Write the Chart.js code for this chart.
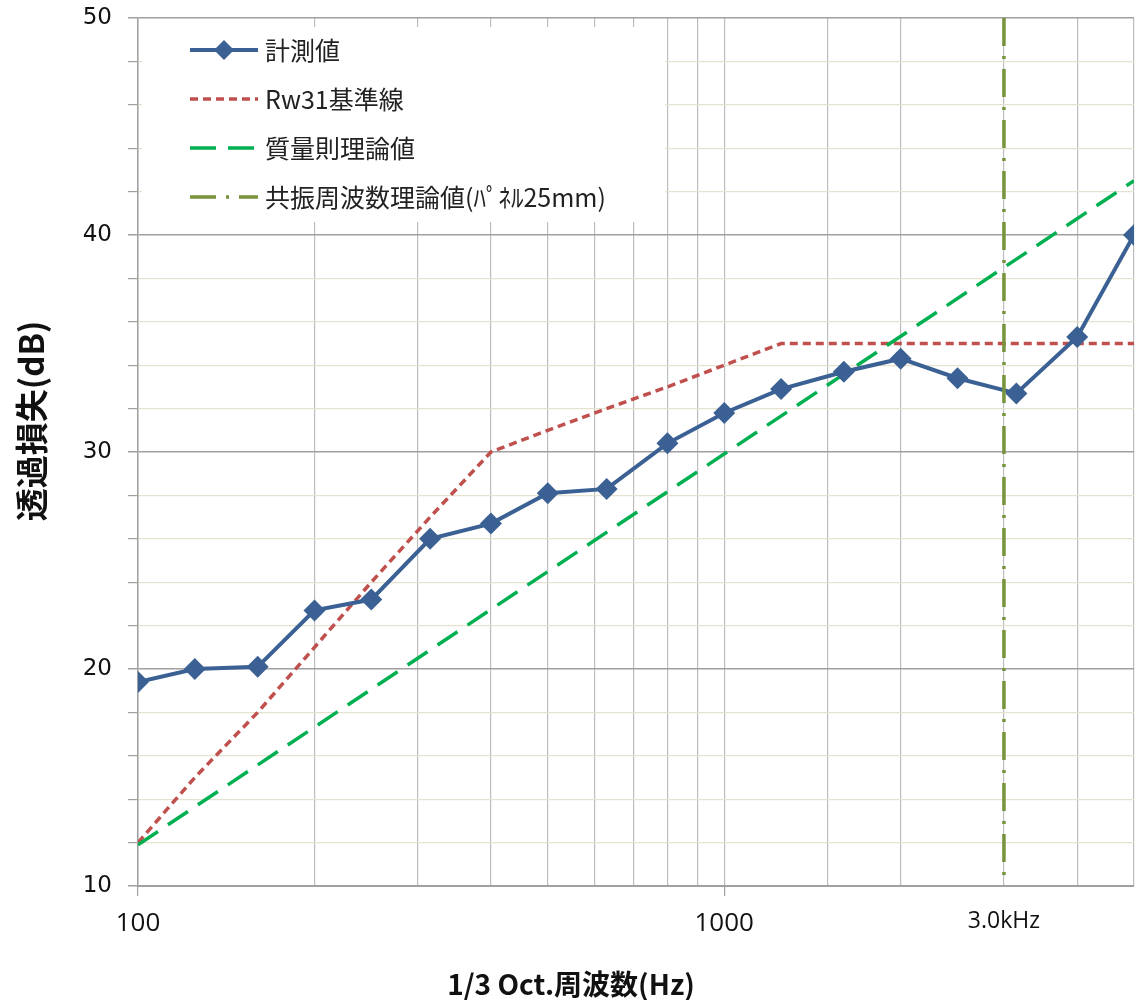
<!DOCTYPE html>
<html>
<head>
<meta charset="utf-8">
<script src="https://cdn.jsdelivr.net/npm/chart.js@4.4.1/dist/chart.umd.min.js"></script>
<style>
    body { margin: 0; background: #fff; }
    #wrap { width: 1145px; height: 1000px; }
</style>
</head>
<body>
<div id="wrap"><canvas id="tlChart" width="1145" height="1000"></canvas></div>
<script>
// ==================== DATA ====================
const freqs = [100, 125, 160, 200, 250, 315, 400, 500, 630, 800, 1000, 1250, 1600, 2000, 2500, 3150, 4000, 5000];
const measured = [19.4, 20.0, 20.1, 22.7, 23.2, 26.0, 26.7, 28.1, 28.3, 30.4, 31.8, 32.9, 33.7, 34.3, 33.4, 32.7, 35.3, 40.0];
const rw31Ref = [12, 15, 18, 21, 24, 27, 30, 31, 32, 33, 34, 35, 35, 35, 35, 35, 35, 35];
const massLawFreqs = [100, 5000];
const massLawValues = [11.9, 42.5];
const resonanceFreqs = [3000, 3000];
const resonanceValues = [50, 10.5];
const xLabels = { 100: '100', 1000: '1000', 3000: '3.0kHz' };

const seriesNames = ['計測値', 'Rw31基準線', '質量則理論値', '共振周波数理論値(ﾊﾟﾈﾙ25mm)'];
const xTitle = '1/3 Oct.周波数(Hz)';
const yTitle = '透過損失(dB)';

const toPoints = (xs, ys) => xs.map((x, i) => ({ x: x, y: ys[i] }));

const JP_FONT = '"Noto Sans CJK JP", "Noto Sans", sans-serif';

// legend box drawn inside the plot, like the spreadsheet original
const insideLegend = {
    id: 'insideLegend',
    beforeDatasetsDraw(chart) {
        const ctx = chart.ctx;
        const area = chart.chartArea;
        const boxLeft = area.left + 4, boxTop = 27, boxRight = 665, boxBottom = 222;
        ctx.save();
        ctx.fillStyle = '#ffffff';
        ctx.fillRect(boxLeft, boxTop, boxRight - boxLeft, boxBottom - boxTop);

        chart.data.datasets.forEach((ds, i) => {
            const y = 50 + i * 49;
            const x0 = 190, x1 = 258;
            ctx.strokeStyle = ds.borderColor;
            ctx.lineWidth = ds.borderWidth;
            ctx.setLineDash(ds.legendDash || ds.borderDash || []);
            ctx.beginPath();
            ctx.moveTo(x0, y);
            ctx.lineTo(x1, y);
            ctx.stroke();
            ctx.setLineDash([]);
            if (ds.pointRadius > 0) {
                const r = 10;
                const cx = (x0 + x1) / 2;
                ctx.fillStyle = ds.backgroundColor;
                ctx.beginPath();
                ctx.moveTo(cx, y - r);
                ctx.lineTo(cx + r, y);
                ctx.lineTo(cx, y + r);
                ctx.lineTo(cx - r, y);
                ctx.closePath();
                ctx.fill();
            }
            ctx.fillStyle = '#222';
            ctx.font = '25px ' + JP_FONT;
            ctx.textBaseline = 'middle';
            ctx.textAlign = 'left';
            ctx.fillText(ds.label, 265, y);
        });
        ctx.restore();
    }
};

// axis titles sit off-centre in the original, so draw them by hand
const axisTitles = {
    id: 'axisTitles',
    afterDraw(chart) {
        const ctx = chart.ctx;
        ctx.save();
        ctx.fillStyle = '#111';
        ctx.textAlign = 'center';
        ctx.textBaseline = 'middle';
        ctx.font = 'bold 28px ' + JP_FONT;
        ctx.fillText(xTitle, 571, 984);
        ctx.translate(31, 421);
        ctx.rotate(-Math.PI / 2);
        ctx.font = 'bold 33px ' + JP_FONT;
        ctx.fillText(yTitle, 0, 0);
        ctx.restore();
    }
};

new Chart(document.getElementById('tlChart').getContext('2d'), {
    type: 'line',
    data: {
        datasets: [
            {
                label: seriesNames[0],
                data: toPoints(freqs, measured),
                borderColor: '#3B6194',
                backgroundColor: '#3B6194',
                borderWidth: 4,
                pointStyle: 'rectRot',
                pointRadius: 11,
                pointBorderWidth: 0,
                tension: 0,
                order: 1
            },
            {
                label: seriesNames[1],
                data: toPoints(freqs, rw31Ref),
                borderColor: '#C0504D',
                backgroundColor: '#C0504D',
                borderWidth: 3.5,
                borderDash: [8, 5],
                pointRadius: 0,
                tension: 0,
                order: 3
            },
            {
                label: seriesNames[2],
                data: toPoints(massLawFreqs, massLawValues),
                borderColor: '#00B050',
                backgroundColor: '#00B050',
                borderWidth: 3.5,
                borderDash: [24, 12],
                legendDash: [26, 12],
                pointRadius: 0,
                tension: 0,
                order: 2
            },
            {
                label: seriesNames[3],
                data: toPoints(resonanceFreqs, resonanceValues),
                borderColor: '#77933C',
                backgroundColor: '#77933C',
                borderWidth: 3.5,
                borderDash: [28, 10, 3, 10],
                legendDash: [26, 10, 3, 10],
                pointRadius: 0,
                tension: 0,
                order: 0
            }
        ]
    },
    plugins: [insideLegend, axisTitles],
    options: {
        responsive: false,
        animation: false,
        layout: { padding: { top: 18, right: 10, left: 0, bottom: 0 } },
        plugins: {
            legend: { display: false },
            tooltip: { enabled: false }
        },
        scales: {
            x: {
                type: 'logarithmic',
                min: 100,
                max: 5000,
                afterFit(scale) {
                    scale.height = 114;
                    scale.paddingLeft = 0;
                    scale.paddingRight = 0;
                },
                border: { color: '#A0A0A0', width: 2 },
                grid: {
                    color: '#BDBDBD',
                    lineWidth: 1.2,
                    tickLength: 10,
                    tickColor: ctx => (ctx.tick && (ctx.tick.value === 100 || ctx.tick.value === 1000)) ? '#A0A0A0' : 'rgba(0,0,0,0)'
                },
                ticks: {
                    autoSkip: false,
                    maxRotation: 0,
                    padding: 12,
                    color: '#111',
                    font: ctx => (ctx.tick && ctx.tick.value === 3000)
                        ? { family: '"Open Sans", sans-serif', size: 23 }
                        : { family: '"Open Sans", sans-serif', size: 26 },
                    callback: value => xLabels[value] || ''
                },
                title: { display: false }
            },
            y: {
                type: 'linear',
                min: 10,
                max: 50,
                afterFit(scale) {
                    scale.width = 138;
                    scale.paddingTop = 0;
                    scale.paddingBottom = 0;
                },
                border: { color: '#A0A0A0', width: 1.5 },
                grid: {
                    color: ctx => (ctx.tick && ctx.tick.value % 10 === 0) ? '#A0A0A0' : '#E6E2D0',
                    lineWidth: ctx => (ctx.tick && ctx.tick.value % 10 === 0) ? 1.5 : 1.2,
                    tickLength: 10,
                    tickColor: '#A0A0A0'
                },
                ticks: {
                    stepSize: 2,
                    maxTicksLimit: 30,
                    autoSkip: false,
                    padding: 16,
                    color: '#111',
                    font: { family: '"DejaVu Sans", sans-serif', size: 23 },
                    callback: value => value % 10 === 0 ? value : ''
                },
                title: { display: false }
            }
        }
    }
});
</script>
</body>
</html>
